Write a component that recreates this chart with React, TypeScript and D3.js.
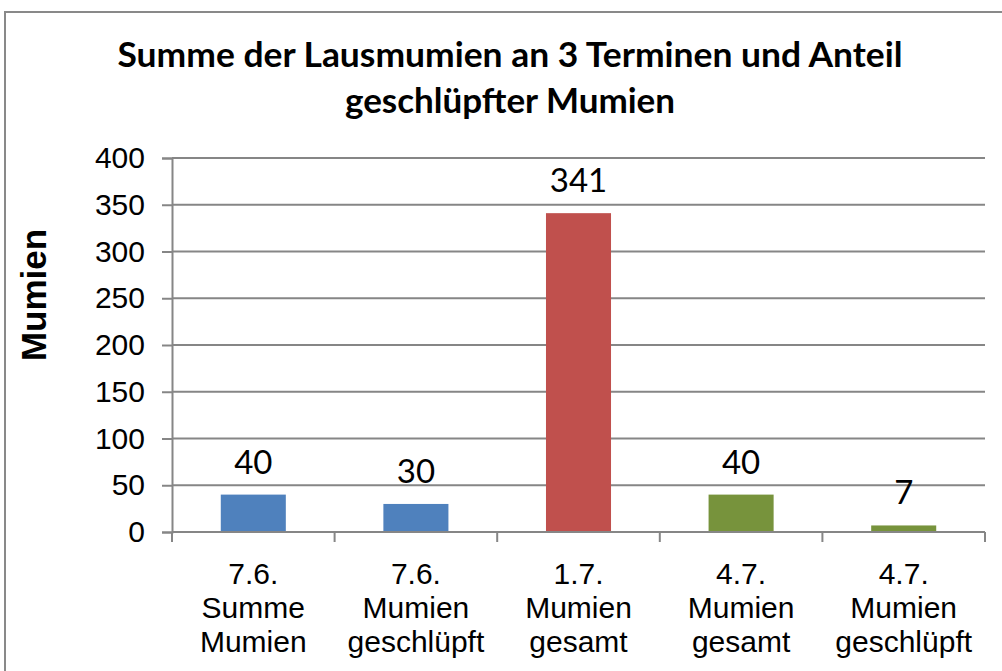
import React, { useEffect, useRef } from 'react';
import * as d3 from 'd3';

const categories = [
  ['7.6.', 'Summe', 'Mumien'],
  ['7.6.', 'Mumien', 'geschlüpft'],
  ['1.7.', 'Mumien', 'gesamt'],
  ['4.7.', 'Mumien', 'gesamt'],
  ['4.7.', 'Mumien', 'geschlüpft'],
];
const values = [40, 30, 341, 40, 7];
const barColors = ['#4F81BD', '#4F81BD', '#C0504D', '#77933C', '#77933C'];
const yTicks = [0, 50, 100, 150, 200, 250, 300, 350, 400];
const titleLines = ['Summe der Lausmumien an 3 Terminen und Anteil', 'geschlüpfter Mumien'];
const yTitle = 'Mumien';

const W = 1002;
const H = 671;
const margin = { left: 172, right: 17, top: 158, bottom: 139 };

export default function App() {
  const ref = useRef<SVGSVGElement>(null);

  useEffect(() => {
    const svg = d3.select(ref.current);
    svg.selectAll('*').remove();

    const x = d3
      .scaleBand<number>()
      .domain(values.map((_, i) => i))
      .range([margin.left, W - margin.right])
      .paddingInner(0.6)
      .paddingOuter(0.3);
    const y = d3.scaleLinear().domain([0, 400]).range([H - margin.bottom, margin.top]);

    // chart border (cropped on right and bottom)
    svg
      .append('rect')
      .attr('x', 5)
      .attr('y', 12)
      .attr('width', W + 20)
      .attr('height', H + 20)
      .attr('fill', 'white')
      .attr('stroke', '#898989')
      .attr('stroke-width', 2);

    // title
    const titleWidths = [785, 330];
    svg
      .append('text')
      .attr('text-anchor', 'middle')
      .style('font-family', 'Lato, sans-serif')
      .style('font-weight', 'bold')
      .style('font-size', '35px')
      .selectAll('tspan')
      .data(titleLines)
      .enter()
      .append('tspan')
      .attr('x', 510)
      .attr('y', (_, i) => 67 + i * 46)
      .attr('textLength', (_, i) => titleWidths[i])
      .attr('lengthAdjust', 'spacingAndGlyphs')
      .text((d) => d);

    // gridlines
    svg
      .append('g')
      .selectAll('line')
      .data(yTicks.slice(1))
      .enter()
      .append('line')
      .attr('x1', margin.left)
      .attr('x2', W - margin.right)
      .attr('y1', (d) => y(d))
      .attr('y2', (d) => y(d))
      .attr('stroke', '#868686')
      .attr('stroke-width', 2);

    // y axis
    const yAxis = svg
      .append('g')
      .attr('transform', `translate(${margin.left},0)`)
      .call(d3.axisLeft(y).tickValues(yTicks).tickSize(10).tickPadding(17));
    yAxis.select('.domain').attr('stroke', '#868686').attr('stroke-width', 2);
    yAxis.selectAll('.tick line').attr('stroke', '#868686').attr('stroke-width', 2);
    yAxis
      .selectAll('.tick text')
      .attr('fill', '#000')
      .style('font-family', '"Liberation Sans", Arial, sans-serif')
      .style('font-size', '30px');

    // bars
    svg
      .append('g')
      .selectAll('rect')
      .data(values)
      .enter()
      .append('rect')
      .attr('x', (_, i) => x(i)!)
      .attr('width', x.bandwidth())
      .attr('y', (d) => y(d))
      .attr('height', (d) => y(0) - y(d))
      .attr('fill', (_, i) => barColors[i]);

    // data labels
    svg
      .append('g')
      .selectAll('text')
      .data(values)
      .enter()
      .append('text')
      .attr('x', (_, i) => x(i)! + x.bandwidth() / 2)
      .attr('y', (d) => y(d) - 21)
      .attr('text-anchor', 'middle')
      .style('font-family', 'Lato, sans-serif')
      .style('font-size', '33px')
      .text((d) => d);

    // x axis
    const step = (W - margin.right - margin.left) / values.length;
    const xTicks = d3.range(values.length + 1).map((i) => margin.left + i * step);
    svg
      .append('line')
      .attr('x1', margin.left)
      .attr('x2', W - margin.right)
      .attr('y1', y(0))
      .attr('y2', y(0))
      .attr('stroke', '#868686')
      .attr('stroke-width', 2);
    svg
      .append('g')
      .selectAll('line')
      .data(xTicks)
      .enter()
      .append('line')
      .attr('x1', (d) => d)
      .attr('x2', (d) => d)
      .attr('y1', y(0))
      .attr('y2', y(0) + 10)
      .attr('stroke', '#868686')
      .attr('stroke-width', 2);

    const xl = svg
      .append('g')
      .selectAll('text')
      .data(categories)
      .enter()
      .append('text')
      .attr('text-anchor', 'middle')
      .style('font-family', '"Liberation Sans", Arial, sans-serif')
      .style('font-size', '30px');
    xl.selectAll('tspan')
      .data((d, i) => d.map((t) => ({ t, i })))
      .enter()
      .append('tspan')
      .attr('x', (d) => x(d.i)! + x.bandwidth() / 2)
      .attr('y', (_, j) => 584 + j * 34)
      .text((d) => d.t);

    // y axis title
    svg
      .append('text')
      .attr('transform', `translate(46,295) rotate(-90)`)
      .attr('text-anchor', 'middle')
      .style('font-family', '"Liberation Sans", Arial, sans-serif')
      .style('font-weight', 'bold')
      .style('font-size', '35px')
      .text(yTitle);
  }, []);

  return (
    <div style={{ position: 'absolute', left: 0, top: 0 }}>
      <svg ref={ref} width={W} height={H} style={{ display: 'block', background: 'white' }} />
    </div>
  );
}
